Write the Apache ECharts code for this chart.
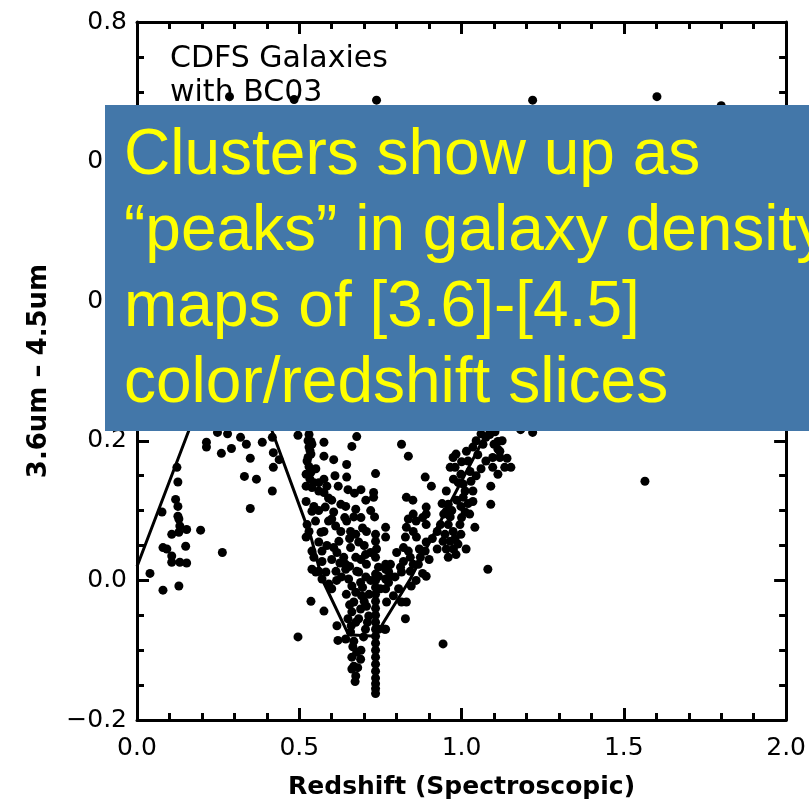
<!DOCTYPE html>
<html>
<head>
<meta charset="utf-8">
<script src="https://cdn.jsdelivr.net/npm/echarts@6/dist/echarts.min.js"></script>
<style>html,body{margin:0;padding:0;background:#fff;}#c{width:809px;height:805px;}</style>
</head>
<body>
<div id="c"></div>
<script>
// axis ranges / ticks
const xTicks = [0.0, 0.5, 1.0, 1.5, 2.0];
const yTicks = [-0.2, 0.0, 0.2, 0.4, 0.6, 0.8];

// BC03 model track (redshift, colour)
const modelZ     = [0.0, 0.16, 0.30, 0.417, 0.536, 0.570, 0.652, 0.735, 0.760, 0.842, 1.075, 1.30, 1.60, 2.0];
const modelColor = [0.02, 0.215, 0.42, 0.213, 0.062, 0.002, -0.078, -0.080, -0.060, 0.002, 0.209, 0.42, 0.50, 0.45];

// galaxies, grouped by region of the diagram
const lowZGroup = [[0.123,0.162],[0.126,0.141],[0.119,0.116],[0.126,0.106],[0.129,0.088],[0.132,0.078],[0.153,0.073],[0.107,0.066],[0.129,0.069],[0.080,0.047],[0.092,0.045],[0.150,0.049],[0.107,0.035],[0.107,0.026],[0.132,0.026],[0.153,0.025],[0.040,0.010],[0.080,-0.014],[0.129,-0.008],[0.077,0.098],[0.196,0.072],[0.263,0.040],[0.126,0.092]];
const midGroup = [[0.214,0.198],[0.214,0.191],[0.248,0.212],[0.279,0.210],[0.260,0.182],[0.291,0.189],[0.319,0.205],[0.337,0.195],[0.349,0.175],[0.386,0.198],[0.331,0.149],[0.368,0.145],[0.349,0.103],[0.417,0.128],[0.417,0.205],[0.420,0.183],[0.420,0.162],[0.438,0.173]];
const descendingGroup = [[0.496,0.208],[0.530,0.209],[0.536,0.199],[0.530,0.191],[0.536,0.181],[0.524,0.171],[0.530,0.163],[0.539,0.195],[0.576,0.198],[0.576,0.178],[0.606,0.173],[0.677,0.206],[0.662,0.192],[0.646,0.166],[0.646,0.148],[0.521,0.152],[0.536,0.155],[0.521,0.135],[0.539,0.133],[0.560,0.128],[0.576,0.126],[0.576,0.145],[0.521,0.113],[0.539,0.099],[0.545,0.106],[0.628,0.109],[0.643,0.106],[0.606,0.098],[0.600,0.088],[0.674,0.102],[0.668,0.091],[0.646,0.085],[0.524,0.080],[0.530,0.070],[0.521,0.062],[0.567,0.069],[0.576,0.070],[0.628,0.070],[0.622,0.056],[0.606,0.047],[0.658,0.070],[0.674,0.066],[0.683,0.055],[0.707,0.070],[0.539,0.042],[0.545,0.033],[0.570,0.042],[0.570,0.027],[0.616,0.040],[0.637,0.033],[0.643,0.023],[0.658,0.047],[0.674,0.033],[0.704,0.037],[0.707,0.023],[0.539,0.016],[0.560,0.013],[0.582,0.012],[0.613,0.013],[0.677,0.013],[0.551,0.012],[0.570,0.002],[0.591,-0.005],[0.600,-0.012],[0.643,0.016],[0.652,0.002],[0.662,-0.008],[0.674,-0.017],[0.668,-0.031],[0.662,-0.045],[0.674,-0.060],[0.658,-0.074],[0.668,-0.087],[0.683,0.012],[0.689,-0.003],[0.692,-0.022],[0.689,-0.041],[0.683,-0.055],[0.707,-0.037],[0.714,-0.051],[0.704,-0.070],[0.536,-0.030],[0.576,-0.044],[0.616,-0.065],[0.619,-0.086],[0.496,-0.081],[0.662,-0.110],[0.677,-0.103],[0.689,-0.113],[0.668,-0.123],[0.674,-0.137],[0.662,-0.127],[0.643,-0.084],[0.698,-0.081]];
const descendingDense = [[0.527,0.200],[0.533,0.186],[0.527,0.176],[0.533,0.145],[0.545,0.140],[0.551,0.160],[0.560,0.140],[0.585,0.135],[0.590,0.118],[0.560,0.100],[0.580,0.105],[0.550,0.085],[0.590,0.085],[0.612,0.078],[0.640,0.090],[0.655,0.060],[0.690,0.090],[0.695,0.075],[0.700,0.050],[0.690,0.030],[0.655,0.020],[0.625,0.025],[0.600,0.030],[0.585,0.050],[0.560,0.055],[0.615,0.000],[0.630,0.005],[0.645,-0.020],[0.655,-0.035],[0.650,-0.055],[0.660,-0.065],[0.695,-0.010],[0.700,-0.030],[0.710,-0.060],[0.715,-0.020],[0.720,0.000],[0.705,0.005],[0.665,-0.095],[0.680,-0.125],[0.672,-0.145],[0.690,-0.100],[0.720,0.040],[0.720,0.100],[0.705,0.115],[0.690,0.130],[0.670,0.125],[0.650,0.130],[0.620,0.135],[0.610,0.150],[0.600,0.115]];
const clusterColumn = [[0.735,0.153],[0.729,0.126],[0.729,0.119],[0.732,0.091],[0.735,0.066],[0.735,0.056],[0.738,0.045],[0.735,0.033],[0.744,0.019],[0.735,0.009],[0.735,0.000],[0.735,-0.010],[0.735,-0.020],[0.735,-0.030],[0.735,-0.040],[0.735,-0.050],[0.735,-0.060],[0.735,-0.070],[0.735,-0.080],[0.735,-0.090],[0.735,-0.100],[0.735,-0.110],[0.735,-0.120],[0.735,-0.130],[0.735,-0.140],[0.735,-0.148],[0.735,-0.155],[0.735,-0.162],[0.744,0.006],[0.750,-0.012],[0.744,-0.070],[0.766,0.016],[0.766,0.002],[0.763,-0.070]];
const risingGroup = [[0.766,0.076],[0.766,0.062],[0.766,0.023],[0.815,0.195],[0.836,0.178],[0.888,0.148],[0.907,0.135],[0.830,0.119],[0.851,0.095],[0.836,0.088],[0.891,0.105],[0.891,0.095],[0.891,0.080],[0.830,0.076],[0.851,0.070],[0.861,0.062],[0.827,0.062],[0.821,0.047],[0.836,0.042],[0.842,0.033],[0.821,0.027],[0.851,0.023],[0.812,0.019],[0.781,0.023],[0.775,0.013],[0.891,0.055],[0.888,0.042],[0.873,0.033],[0.867,0.023],[0.953,0.128],[0.959,0.109],[0.953,0.099],[0.965,0.091],[0.959,0.080],[0.974,0.070],[0.965,0.056],[0.953,0.045],[0.959,0.033],[0.974,0.176],[0.983,0.181],[0.980,0.162],[0.965,0.162],[0.998,0.152],[1.005,0.138],[1.011,0.128],[1.005,0.119],[0.998,0.106],[1.011,0.098],[0.995,0.080],[0.998,0.066],[0.989,0.052],[0.983,0.037],[1.020,0.171],[1.026,0.156],[1.029,0.142],[1.035,0.128],[1.035,0.113],[1.035,0.191],[1.066,0.195],[1.075,0.205],[1.087,0.209],[1.103,0.213],[1.112,0.199],[1.118,0.185],[1.096,0.176],[1.075,0.171],[1.096,0.162],[1.112,0.152],[1.133,0.162],[1.152,0.162],[1.090,0.135],[1.090,0.109],[1.041,0.076],[1.014,0.045],[1.081,0.016],[0.949,0.066],[0.943,0.056],[0.781,0.006],[0.775,-0.003],[0.766,-0.012],[0.769,-0.031],[0.766,-0.070],[0.815,0.012],[0.842,0.013],[0.845,-0.008],[0.830,-0.031],[0.815,-0.031],[0.827,-0.055],[0.891,0.006],[0.943,-0.091],[0.790,-0.022],[0.806,-0.012],[1.182,0.216],[1.219,0.212],[1.112,0.188],[1.118,0.176]];
const risingDense = [[0.945,0.095],[0.935,0.080],[0.925,0.070],[0.940,0.110],[0.970,0.100],[0.985,0.115],[0.990,0.140],[0.975,0.145],[1.000,0.170],[1.015,0.185],[1.045,0.200],[1.050,0.180],[1.060,0.160],[1.045,0.150],[1.020,0.110],[1.025,0.095],[1.000,0.090],[0.980,0.060],[0.975,0.045],[0.925,0.045],[0.910,0.060],[0.900,0.030],[0.880,0.010],[0.860,0.000],[0.870,0.045],[0.860,0.085],[0.880,0.090],[1.100,0.195],[1.125,0.200],[1.140,0.175],[1.060,0.210],[0.850,0.115],[0.800,0.040],[0.795,0.005]];
const topStrip = [[0.285,0.693],[0.484,0.689],[0.738,0.688],[1.219,0.688],[1.602,0.693],[1.80,0.680]];
const outliers = [[1.565,0.142]];

const galaxies = [].concat(lowZGroup, midGroup, descendingGroup, descendingDense, clusterColumn, risingGroup, risingDense, topStrip, outliers);
const modelLine = modelZ.map((z, i) => [z, modelColor[i]]);

const FONT = 'DejaVu Sans';
const fmt = v => (Math.abs(v) < 1e-9 ? 0 : v).toFixed(1).replace('-', '\u2212');

const chart = echarts.init(document.getElementById('c'), null, {renderer: 'canvas'});
const axisLine = {show: true, onZero: false, lineStyle: {color: '#000', width: 3}};
const axisTick = {show: true, inside: true, length: 12, lineStyle: {color: '#000', width: 3}};
chart.setOption({
  animation: false,
  backgroundColor: '#fff',
  grid: {left: 137, right: 19, top: 22, bottom: 84},
  xAxis: [{
    type: 'value', min: 0, max: 2, interval: 0.5,
    name: 'Redshift (Spectroscopic)', nameLocation: 'middle', nameGap: 55,
    nameTextStyle: {fontFamily: FONT, fontSize: 25, color: '#000', fontWeight: 'bold'},
    axisLine, axisTick,
    minorTick: {show: true, splitNumber: 5, length: 7, lineStyle: {color: '#000', width: 3}},
    splitLine: {show: false},
    axisLabel: {margin: 16, fontFamily: FONT, fontSize: 25, color: '#000', formatter: fmt}
  }, {
    type: 'value', min: 0, max: 2, interval: 0.5, position: 'top',
    axisLine, axisTick,
    minorTick: {show: true, splitNumber: 5, length: 7, lineStyle: {color: '#000', width: 3}},
    splitLine: {show: false}, axisLabel: {show: false}
  }],
  yAxis: [{
    type: 'value', min: -0.2, max: 0.8, interval: 0.2,
    name: '3.6um \u2013 4.5um', nameLocation: 'middle', nameGap: 85, nameRotate: 90,
    nameTextStyle: {fontFamily: FONT, fontSize: 26, color: '#000', fontWeight: 'bold'},
    axisLine, axisTick,
    minorTick: {show: true, splitNumber: 4, length: 7, lineStyle: {color: '#000', width: 3}},
    splitLine: {show: false},
    axisLabel: {margin: 10, fontFamily: FONT, fontSize: 25, color: '#000', formatter: fmt}
  }, {
    type: 'value', min: -0.2, max: 0.8, interval: 0.2, position: 'right',
    axisLine, axisTick,
    minorTick: {show: true, splitNumber: 4, length: 7, lineStyle: {color: '#000', width: 3}},
    splitLine: {show: false}, axisLabel: {show: false}
  }],
  series: [{
    type: 'line', data: modelLine, symbol: 'none', smooth: false,
    lineStyle: {color: '#000', width: 3}, z: 3, silent: true
  }, {
    type: 'scatter', data: galaxies, symbol: 'circle', symbolSize: 9,
    itemStyle: {color: '#000', opacity: 1}, z: 4, silent: true
  }],
  graphic: [{
    type: 'text', x: 170, y: 42, z: 10,
    style: {text: 'CDFS Galaxies\nwith BC03', font: '30px "DejaVu Sans"', fill: '#000', lineHeight: 34, verticalAlign: 'top'}
  }, {
    type: 'rect', shape: {x: 105, y: 105, width: 720, height: 326}, z: 20,
    style: {fill: '#4377a9'}
  }, {
    type: 'text', x: 124, y: 118, z: 21,
    style: {
      text: 'Clusters show up as\n\u201cpeaks\u201d in galaxy density\nmaps of [3.6]-[4.5]\ncolor/redshift slices',
      font: '64px "Liberation Sans"', fill: '#ffff00', lineHeight: 76, verticalAlign: 'top', align: 'left'
    }
  }]
});
</script>
</body>
</html>
